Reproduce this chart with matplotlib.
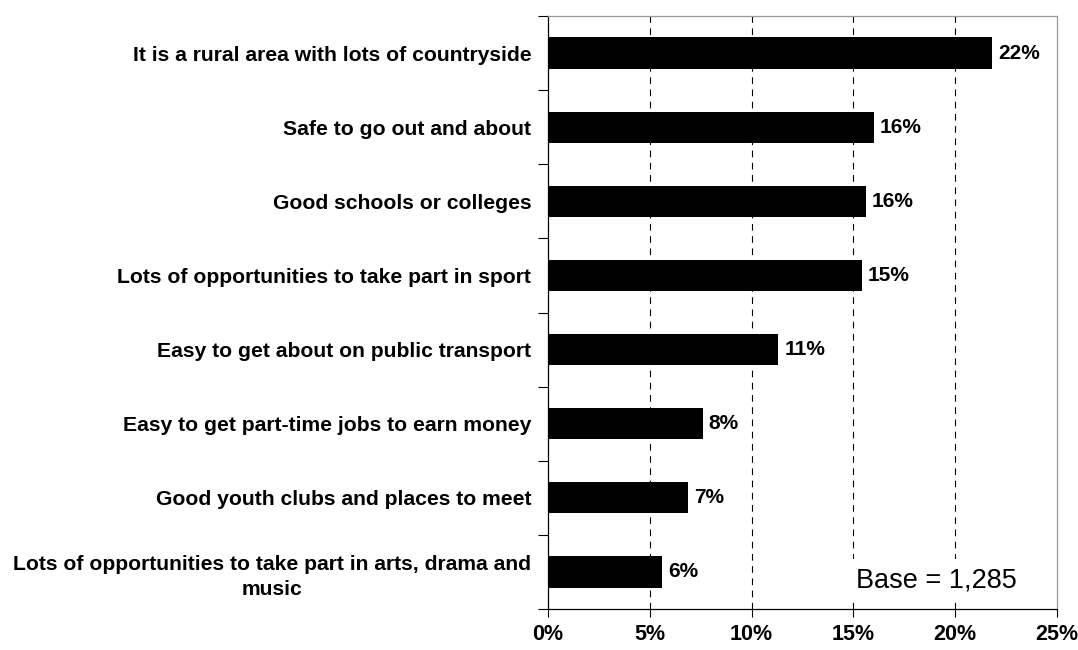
import matplotlib
matplotlib.use('Agg')
import matplotlib.pyplot as plt
from matplotlib.ticker import FixedLocator, NullFormatter

plt.rcParams['font.family'] = ['Liberation Sans', 'DejaVu Sans']

# Survey answers, top to bottom
reasons = [
    "It is a rural area with lots of countryside",
    "Safe to go out and about",
    "Good schools or colleges",
    "Lots of opportunities to take part in sport",
    "Easy to get about on public transport",
    "Easy to get part-time jobs to earn money",
    "Good youth clubs and places to meet",
    "Lots of opportunities to take part in arts, drama and\nmusic",
]
shares = [21.8, 16.0, 15.6, 15.4, 11.3, 7.6, 6.9, 5.6]
x_ticks = [0, 5, 10, 15, 20, 25]
base_note = "Base = 1,285"

fig = plt.figure(figsize=(10.78, 6.5), dpi=100)
ax = fig.add_axes([548 / 1078, 1 - 609 / 650, 509 / 1078, 593 / 650])

pos = list(range(len(reasons)))
ax.barh(pos, shares, height=0.42, color='black', zorder=3)
ax.set_ylim(len(reasons) - 0.5, -0.5)
ax.set_xlim(0, 25)

for p, v in zip(pos, shares):
    ax.text(v + 0.3, p, f"{v:.0f}%", va='center', ha='left',
            fontsize=15, fontweight='bold', zorder=4)

# dashed gridlines inside the plot area
for g in x_ticks[1:-1]:
    ax.axvline(g, color='black', lw=0.8, ls=(0, (6, 5)), zorder=1)

ax.set_xticks(x_ticks)
ax.set_xticklabels([f"{t}%" for t in x_ticks], fontsize=15.5, fontweight='bold')
ax.tick_params(axis='x', length=6, width=0.8, pad=5, direction='out')

# category labels sit between the boundary ticks
ax.yaxis.set_major_locator(FixedLocator([b - 0.5 for b in range(len(reasons) + 1)]))
ax.yaxis.set_major_formatter(NullFormatter())
ax.yaxis.set_minor_locator(FixedLocator(pos))
ax.set_yticklabels(reasons, minor=True, fontsize=15.2, fontweight='bold',
                   multialignment='center', linespacing=1.4)
ax.tick_params(axis='y', which='major', length=7, width=0.8, direction='out')
ax.tick_params(axis='y', which='minor', length=0, pad=12)

for side in ['left', 'bottom']:
    ax.spines[side].set_color('black')
    ax.spines[side].set_linewidth(0.9)
for side in ['top', 'right']:
    ax.spines[side].set_color('#999999')
    ax.spines[side].set_linewidth(0.9)

ax.text(23.0, 7.12, base_note, ha='right', va='center', fontsize=19.5, zorder=5,
        bbox=dict(facecolor='white', edgecolor='none', pad=6))

fig.savefig('out.png', dpi=100)
